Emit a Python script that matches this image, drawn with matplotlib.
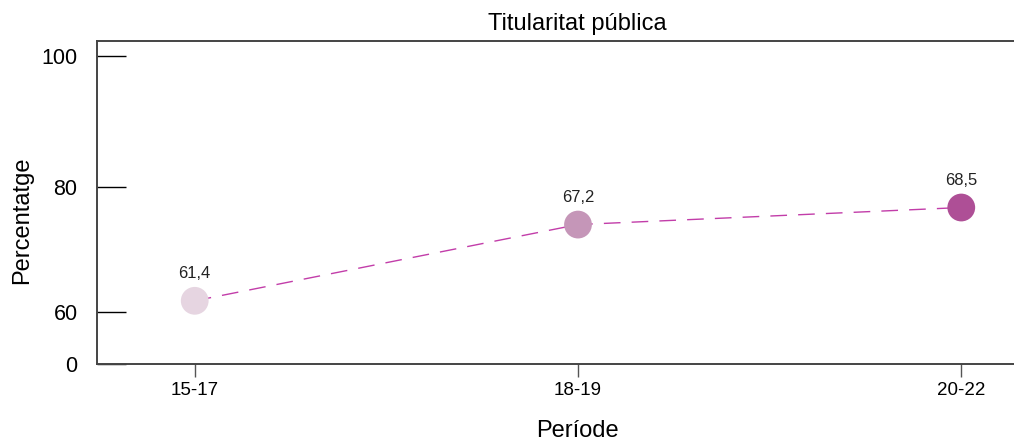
import numpy as np
import matplotlib
matplotlib.use("Agg")
import matplotlib.pyplot as plt

plt.rcParams['font.family'] = ['Liberation Sans', 'DejaVu Sans']

# data
periods = ["15-17", "18-19", "20-22"]
values = [61.4, 67.2, 68.5]
labels = ["61,4", "67,2", "68,5"]
point_colors = ["#E6D5E1", "#C596B8", "#AE4F96"]

# the original y axis is not linear: calibration
scale_vals = [0, 60, 61.4, 67.2, 68.5, 80, 100, 102.3]
scale_pos = [0, 52, 63, 139, 156, 176, 307, 322]
yticks = [0, 60, 80, 100]


def fwd(v):
    return np.interp(v, scale_vals, scale_pos)


def inv(p):
    return np.interp(p, scale_pos, scale_vals)


fig = plt.figure(figsize=(10.14, 4.44), dpi=100)
ax = fig.add_axes([97 / 1014, (444 - 364) / 444, (1059 - 97) / 1014, (364 - 41) / 444])
ax.set_yscale('function', functions=(fwd, inv))

x = np.arange(len(periods))
ax.plot(x, values, linestyle=(0, (12, 8)), color="#C23DA9", linewidth=1.0, zorder=2)
ax.scatter(x, values, s=400, c=point_colors, zorder=3, linewidths=0)
for xi, v, lab in zip(x, values, labels):
    ax.annotate(lab, (xi, v), xytext=(0, 14), textcoords='offset points',
                ha='center', va='bottom', fontsize=12, color="#222222")

ax.set_xlim(-0.255, 2.255)
ax.set_ylim(0, 102.3)
ax.set_xticks(x)
ax.set_xticklabels(periods, fontsize=13.5)
ax.set_yticks(yticks)
ax.set_yticklabels([str(t) for t in yticks], fontsize=15.5)
ax.yaxis.set_minor_locator(matplotlib.ticker.NullLocator())

ax.tick_params(axis='y', direction='in', length=21, width=1, color='black', pad=14)
ax.tick_params(axis='x', direction='out', length=9, width=1, color='#555555', pad=4)

for side in ['left', 'bottom', 'top']:
    ax.spines[side].set_color('#444444')
    ax.spines[side].set_linewidth(1.4)
ax.spines['right'].set_visible(False)

fig.text(577 / 1014, 1 - 24 / 444, "Titularitat pública", ha='center', va='center', fontsize=17)
fig.text(577 / 1014, 1 - 431 / 444, "Període", ha='center', va='center', fontsize=17)
fig.text(22 / 1014, 1 - 220 / 444, "Percentatge", ha='center', va='center', fontsize=17, rotation=90)

fig.savefig("out.png", dpi=100)
